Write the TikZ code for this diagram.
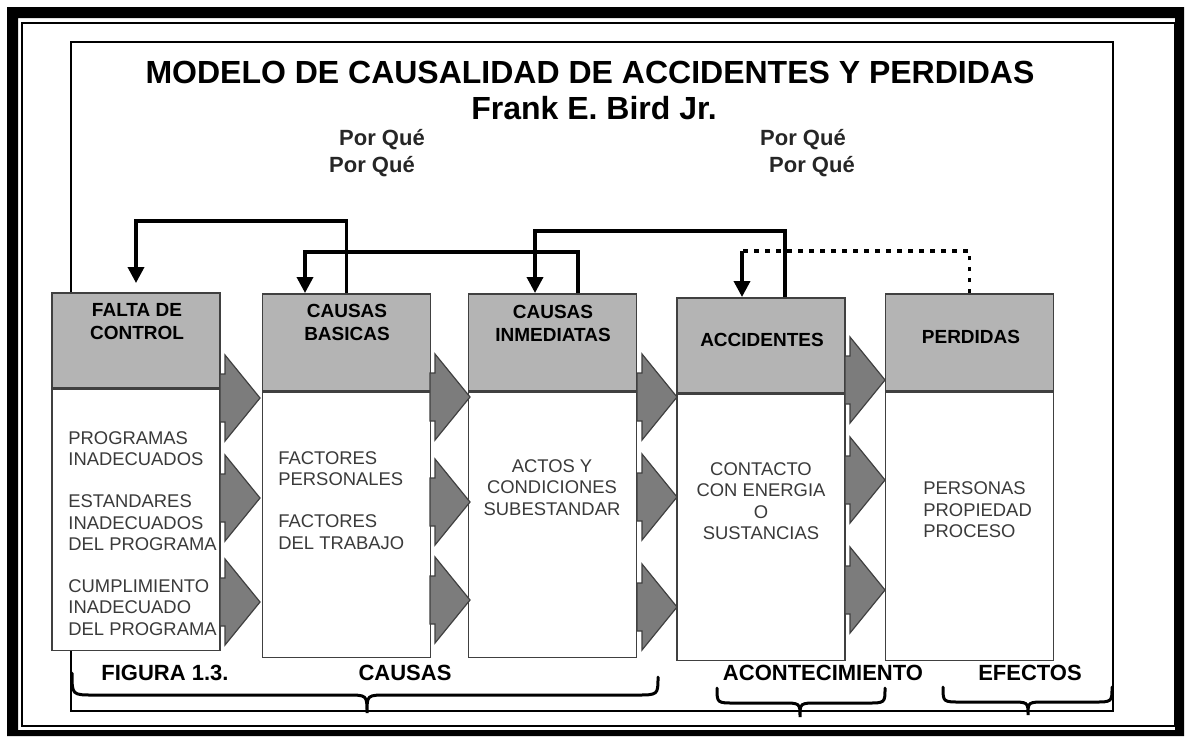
\documentclass[tikz,border=0pt]{standalone}
\usepackage{fontspec}
\setmainfont{Liberation Sans}
\usetikzlibrary{arrows.meta}

\definecolor{cabecera}{HTML}{B4B4B4}
\definecolor{flechagris}{HTML}{7C7C7C}
\definecolor{borde}{HTML}{404040}
\definecolor{textogris}{HTML}{3A3A3A}

\tikzset{
  cabeza/.style={draw=borde, line width=0.8pt, fill=cabecera, minimum width=84pt, anchor=north, inner sep=0pt},
  cuerpo/.style={draw=borde, line width=0.8pt, fill=white, minimum width=84pt, anchor=north, inner sep=0pt},
  titulo/.style={font=\fontsize{9.5}{11.5}\selectfont\bfseries, align=center, inner sep=0pt},
  texto/.style={font=\fontsize{9.2}{10.7}\selectfont, text=textogris, inner sep=0pt},
  etiqueta/.style={font=\fontsize{11}{13}\selectfont\bfseries, inner sep=0pt},
  porque/.style={font=\fontsize{11}{13}\selectfont\bfseries, text=black!85, inner sep=0pt},
  retro/.style={line width=1.8pt, -{Triangle[width=8pt,length=8pt]}},
  llave/.style={line width=1.5pt, line cap=round},
  flecha/.pic={\draw[fill=flechagris, draw=borde, line width=0.6pt] (0,-24) -- (5,-24) -- (5,-43) -- (40,0) -- (5,43) -- (5,24) -- (0,24) -- cycle;}
}

\begin{document}
\begin{tikzpicture}[x=0.5pt,y=-0.5pt]

\fill[white] (0,0) rectangle (1186,736);
\useasboundingbox (0,0) rectangle (1186,736);

% marco
\fill[black, even odd rule] (7,7) rectangle (1184,736) (18,18) rectangle (1175,730);
\draw[line width=1pt] (22,23) rectangle (1175,726);
\draw[line width=1.2pt] (71,42) rectangle (1113,711);

\node[font=\fontsize{16}{18}\selectfont\bfseries, inner sep=0pt] (titulo) at (590,72) {MODELO DE CAUSALIDAD DE ACCIDENTES Y PERDIDAS};
\node[font=\fontsize{16}{18}\selectfont\bfseries, inner sep=0pt] (autor) at (594,108) {Frank E. Bird Jr.};

\node[porque] (pq1) at (382,140) {Por Qué};
\node[porque] (pq2) at (372,167) {Por Qué};
\node[porque] (pq3) at (803,140) {Por Qué};
\node[porque] (pq4) at (812,167) {Por Qué};

% cajas
\node[cabeza, minimum height=47.5pt] (hfalta) at (136,292) {};
\node[cuerpo, minimum height=130.5pt] (bfalta) at (hfalta.south) {};
\node[cabeza, minimum height=48.5pt] (hbasicas) at (346.5,293) {};
\node[cuerpo, minimum height=132.5pt] (bbasicas) at (hbasicas.south) {};
\node[cabeza, minimum height=48.5pt] (hinmed) at (552.5,293) {};
\node[cuerpo, minimum height=132.5pt] (binmed) at (hinmed.south) {};
\node[cabeza, minimum height=47.5pt] (hacc) at (761,297) {};
\node[cuerpo, minimum height=133pt] (bacc) at (hacc.south) {};
\node[cabeza, minimum height=48.5pt] (hperd) at (969.5,293) {};
\node[cuerpo, minimum height=134pt] (bperd) at (hperd.south) {};

\node[titulo] (tfalta) at (137,321.5) {FALTA DE\\CONTROL};
\node[titulo] (tbasicas) at (347,322.5) {CAUSAS\\BASICAS};
\node[titulo] (tinmed) at (553,323.5) {CAUSAS\\INMEDIATAS};
\node[titulo] (tacc) at (762,340) {ACCIDENTES};
\node[titulo] (tperd) at (971,337) {PERDIDAS};

\node[texto, align=left, anchor=north west] (xfalta) at (68,431) {PROGRAMAS\\INADECUADOS\\[10.3pt]ESTANDARES\\INADECUADOS\\DEL PROGRAMA\\[10.3pt]CUMPLIMIENTO\\INADECUADO\\DEL PROGRAMA};
\node[texto, align=left, anchor=north west] (xbasicas) at (278,451) {FACTORES\\PERSONALES\\[10.3pt]FACTORES\\DEL TRABAJO};
\node[texto, align=center] (xinmed) at (552,487.5) {ACTOS Y\\CONDICIONES\\SUBESTANDAR};
\node[texto, align=center] (xacc) at (761,501) {CONTACTO\\CON ENERGIA\\O\\SUSTANCIAS};
\node[texto, align=left, anchor=north west] (xperd) at (923,481.5) {PERSONAS\\PROPIEDAD\\PROCESO};

% flechas grises
\pic at (220,398) {flecha};
\pic at (220,498) {flecha};
\pic at (220,602) {flecha};
\pic at (430,397) {flecha};
\pic at (430,502) {flecha};
\pic at (430,600) {flecha};
\pic at (637,397) {flecha};
\pic at (637,497) {flecha};
\pic at (637,607) {flecha};
\pic at (845,380) {flecha};
\pic at (845,480) {flecha};
\pic at (845,590) {flecha};

% retroalimentacion
\draw[retro] (hbasicas.north) -- ++(0,-72) -| ([yshift=4.5pt]hfalta.north);
\draw[retro] ([xshift=12.75pt]hinmed.north) -- ++(0,-41) -| ([xshift=-20.75pt]hbasicas.north);
\draw[retro] ([xshift=12pt]hacc.north) -- ++(0,-66) -| ([xshift=-8.75pt]hinmed.north);
\coordinate (codo) at ([xshift=-9.5pt,yshift=23pt]hacc.north);
\draw[line width=1.8pt, dash pattern=on 2.2pt off 3.3pt] (hperd.north) |- (codo);
\draw[retro] (codo) -- ([xshift=-9.5pt]hacc.north);

% llaves
\draw[llave] (72,673) .. controls (72,695) .. (94,695) -- (347,695) .. controls (367,695) .. (367,713) .. controls (367,695) .. (387,695) -- (636,695) .. controls (658,695) .. (658,677);
\draw[llave] (717,688) .. controls (717,703) .. (735,703) -- (782,703) .. controls (800,703) .. (800,717) .. controls (800,703) .. (818,703) -- (867,703) .. controls (885,703) .. (885,688);
\draw[llave] (943,687) .. controls (943,702) .. (961,702) -- (1010,702) .. controls (1028,702) .. (1028,715) .. controls (1028,702) .. (1046,702) -- (1094,702) .. controls (1112,702) .. (1112,687);

\node[etiqueta] (figura) at (165,673) {FIGURA 1.3.};
\node[etiqueta] (causas) at (405,673) {CAUSAS};
\node[etiqueta] (aconte) at (823,673) {ACONTECIMIENTO};
\node[etiqueta] (efectos) at (1030,673) {EFECTOS};

\end{tikzpicture}
\end{document}
